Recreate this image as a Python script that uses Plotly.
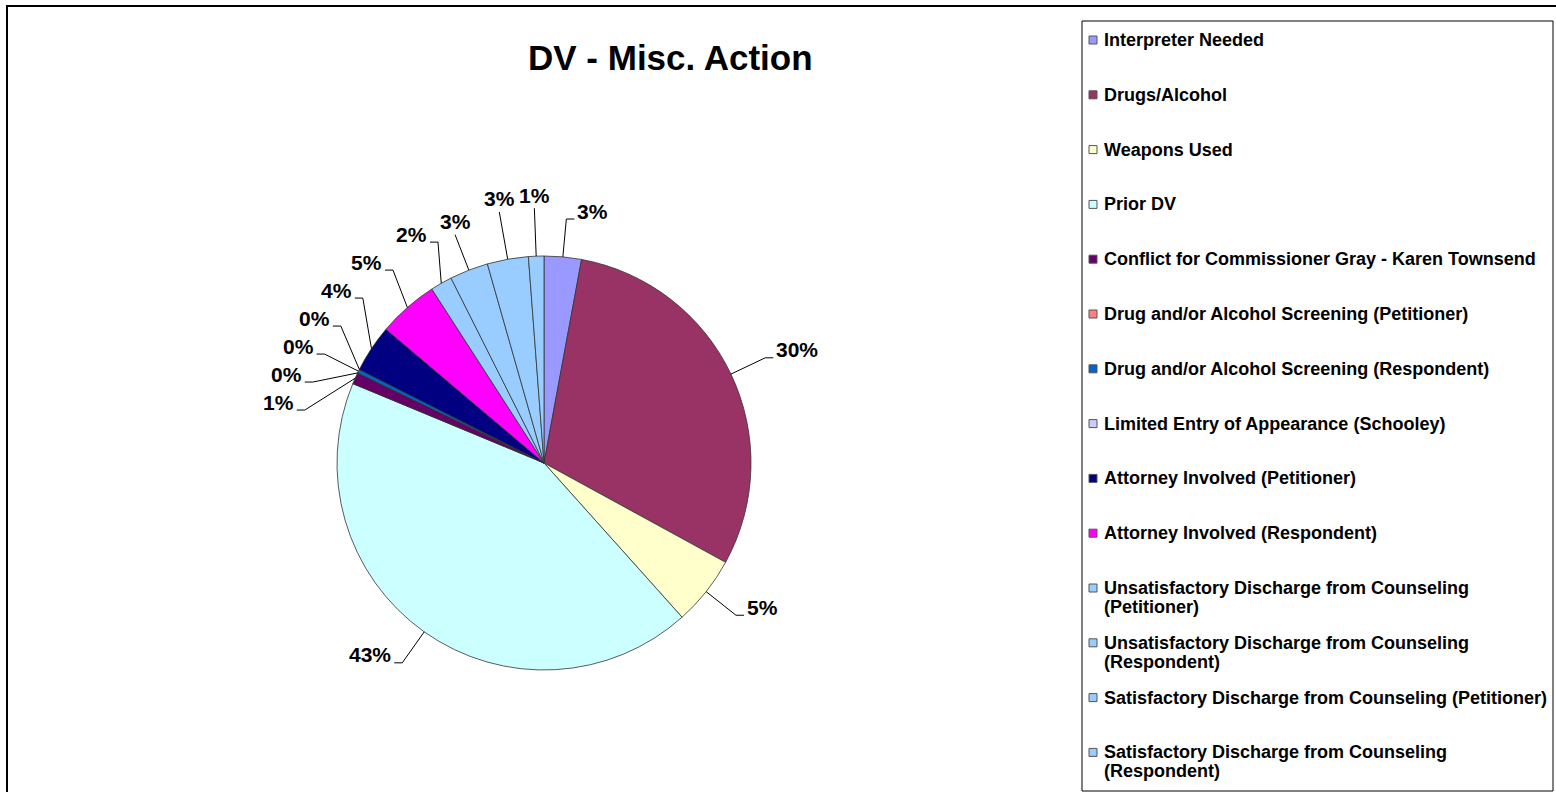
import math
import plotly.graph_objects as go

# ---------------- data ----------------
categories = [
    "Interpreter Needed",
    "Drugs/Alcohol",
    "Weapons Used",
    "Prior DV",
    "Conflict for Commissioner Gray - Karen Townsend",
    "Drug and/or Alcohol Screening (Petitioner)",
    "Drug and/or Alcohol Screening (Respondent)",
    "Limited Entry of Appearance (Schooley)",
    "Attorney Involved (Petitioner)",
    "Attorney Involved (Respondent)",
    "Unsatisfactory Discharge from Counseling (Petitioner)",
    "Unsatisfactory Discharge from Counseling (Respondent)",
    "Satisfactory Discharge from Counseling (Petitioner)",
    "Satisfactory Discharge from Counseling (Respondent)",
]
values = [2.9, 30.0, 5.4, 42.8, 0.9, 0.0, 0.3, 0.0, 3.7, 4.7, 1.7, 3.0, 3.2, 1.2]
legend_text = [
    "Interpreter Needed",
    "Drugs/Alcohol",
    "Weapons Used",
    "Prior DV",
    "Conflict for Commissioner Gray - Karen Townsend",
    "Drug and/or Alcohol Screening (Petitioner)",
    "Drug and/or Alcohol Screening (Respondent)",
    "Limited Entry of Appearance (Schooley)",
    "Attorney Involved (Petitioner)",
    "Attorney Involved (Respondent)",
    "Unsatisfactory Discharge from Counseling<br>(Petitioner)",
    "Unsatisfactory Discharge from Counseling<br>(Respondent)",
    "Satisfactory Discharge from Counseling (Petitioner)",
    "Satisfactory Discharge from Counseling<br>(Respondent)",
]
colors = ["#9999FF", "#993366", "#FFFFCC", "#CCFFFF", "#660066", "#FF8080",
          "#0066CC", "#CCCCFF", "#000080", "#FF00FF", "#99CCFF", "#99CCFF",
          "#99CCFF", "#99CCFF"]
title_text = "DV - Misc. Action"

# ---------------- layout constants ----------------
W, H = 1556, 792
CX, CY, R = 544, 463, 207
LEADER, TICK, GAP = 38, 8, 28
FONT = "Liberation Sans, Arial, sans-serif"


def P(x, y):
    return x / W, 1 - y / H


fig = go.Figure()
fig.add_trace(go.Pie(
    labels=categories, values=values, sort=False, direction="clockwise",
    rotation=0, textinfo="none", showlegend=False,
    marker=dict(colors=colors, line=dict(color="#333333", width=0.8)),
    domain=dict(x=[(CX - R) / W, (CX + R) / W],
                y=[1 - (CY + R) / H, 1 - (CY - R) / H]),
))

# ---------------- data labels with leader lines ----------------
total = sum(values)
items = []
cum = 0.0
for i, v in enumerate(values):
    mid = (cum + v / 2) / total * 2 * math.pi
    cum += v
    s, c = math.sin(mid), math.cos(mid)
    vertical = (c > 0 and -0.4 < s <= 0)
    lead = LEADER + (10 if vertical and s > -0.2 else 0)
    items.append(dict(
        ax=CX + R * s, ay=CY - R * c,
        x=CX + (R + lead) * s, y=CY - (R + lead) * c,
        vertical=vertical,
        side="right" if s > 0 else "left",
        text=f"{round(v / total * 100):.0f}%",
    ))

RL = R + LEADER
for side in ("left", "right"):
    grp = [t for t in items if t["side"] == side and not t["vertical"]]
    for _ in range(400):
        grp.sort(key=lambda t: t["y"])
        moved = False
        for a, b in zip(grp, grp[1:]):
            if b["y"] - a["y"] < GAP - 0.01 and abs(b["x"] - a["x"]) < 45:
                push = (GAP - (b["y"] - a["y"])) / 2
                a["y"] -= push
                b["y"] += push
                moved = True
        for t in grp:
            dy = t["y"] - CY
            if abs(dy) < RL:
                dx = math.sqrt(RL * RL - dy * dy)
                t["x"] = CX + dx if side == "right" else CX - dx
        if not moved:
            break

shapes = []
annotations = []
for t in items:
    ax, ay = P(t["ax"], t["ay"])
    ex, ey = P(t["x"], t["y"])
    if t["vertical"]:
        path = f"M {ax},{ay} L {ex},{ey}"
        tx, ty = P(t["x"], t["y"] - 13)
        xanchor = "center"
    else:
        sgn = 1 if t["side"] == "right" else -1
        kx, ky = P(t["x"] + sgn * TICK, t["y"])
        path = f"M {ax},{ay} L {ex},{ey} L {kx},{ky}"
        tx, ty = P(t["x"] + sgn * (TICK + 1), t["y"] - 8)
        xanchor = "left" if sgn > 0 else "right"
    shapes.append(dict(type="path", path=path, xref="paper", yref="paper",
                       line=dict(color="black", width=1)))
    annotations.append(dict(x=tx, y=ty, xref="paper", yref="paper",
                            text=f"<b>{t['text']}</b>", showarrow=False,
                            xanchor=xanchor, yanchor="middle",
                            font=dict(family=FONT, size=21, color="black")))

# ---------------- legend (manual, Excel style) ----------------
LEG_L, LEG_T, LEG_R, LEG_B = 1082, 21, 1553, 791
ITEM0, PITCH, LINE2 = 40, 54.8, 19
SQ_X, SQ = 1089, 8
TXT_X = 1102
x0, y0 = P(LEG_L, LEG_B)
x1, y1 = P(LEG_R, LEG_T)
shapes.append(dict(type="rect", xref="paper", yref="paper", x0=x0, y0=y0,
                   x1=x1, y1=y1, line=dict(color="black", width=1),
                   fillcolor="rgba(0,0,0,0)"))
for i, (lbl, col) in enumerate(zip(legend_text, colors)):
    yc = ITEM0 + i * PITCH
    a0, b0 = P(SQ_X, yc + SQ / 2)
    a1, b1 = P(SQ_X + SQ, yc - SQ / 2)
    shapes.append(dict(type="rect", xref="paper", yref="paper", x0=a0, y0=b0,
                       x1=a1, y1=b1, fillcolor=col,
                       line=dict(color="#555555", width=1)))
    for k, line in enumerate(lbl.split("<br>")):
        lx, ly = P(TXT_X, yc + k * LINE2)
        annotations.append(dict(x=lx, y=ly, xref="paper", yref="paper",
                                text=f"<b>{line}</b>", showarrow=False,
                                xanchor="left", yanchor="middle",
                                font=dict(family=FONT, size=18, color="black")))

# outer chart border
ox0, oy0 = P(7, 805)
ox1, oy1 = P(1565, 6)
shapes.append(dict(type="rect", xref="paper", yref="paper", x0=ox0, y0=oy0,
                   x1=ox1, y1=oy1, line=dict(color="black", width=2),
                   fillcolor="rgba(0,0,0,0)"))

# title
tx, ty = P(670, 57)
annotations.append(dict(x=tx, y=ty, xref="paper", yref="paper",
                        text=f"<b>{title_text}</b>", showarrow=False,
                        xanchor="center", yanchor="middle",
                        font=dict(family=FONT, size=35, color="black")))

fig.update_layout(
    width=W, height=H, autosize=False,
    margin=dict(l=0, r=0, t=0, b=0),
    paper_bgcolor="white", plot_bgcolor="white",
    shapes=shapes, annotations=annotations, showlegend=False,
)

fig.write_html(
    "out.html",
    config={"displayModeBar": False},
    post_script="document.body.style.margin='0';document.body.style.overflow='hidden';",
)
